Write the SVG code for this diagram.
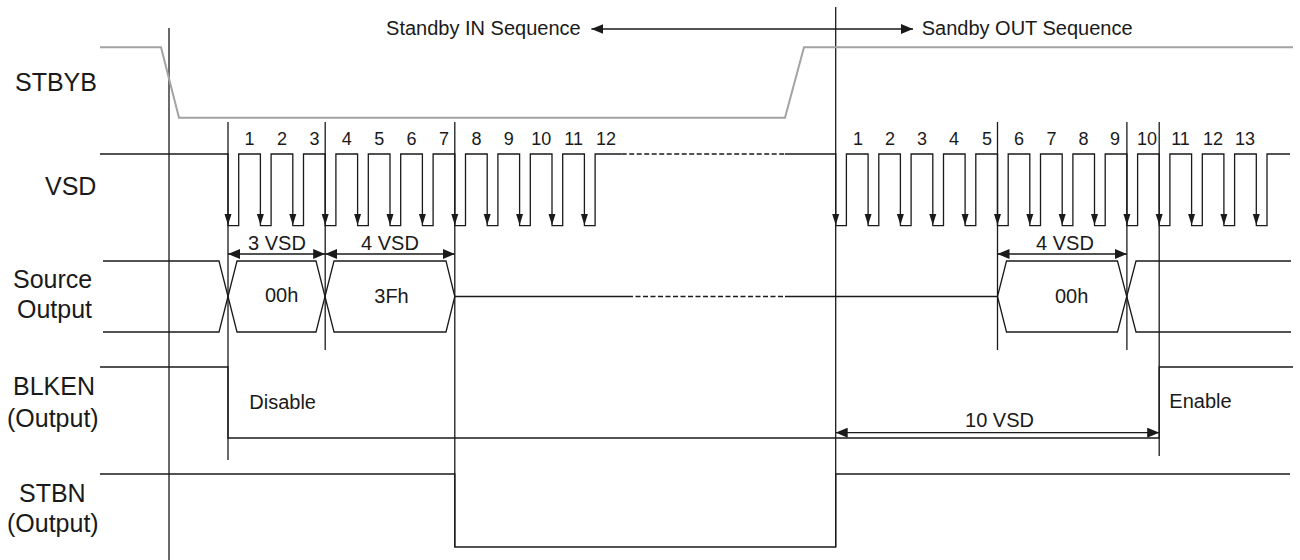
<svg xmlns="http://www.w3.org/2000/svg" xmlns:xlink="http://www.w3.org/1999/xlink" width="1300" height="560" viewBox="0 0 1300 560">
<style>
.ln{fill:none;stroke:#1a1a1a;stroke-width:1.3}
.dash{fill:none;stroke:#1a1a1a;stroke-width:1.3;stroke-dasharray:5,2.5}
.gr{fill:none;stroke:#a3a3a3;stroke-width:2}
text{font-family:"Liberation Sans",Arial,sans-serif;fill:#1a1a1a}
.lbl{font-size:25px}
.num{font-size:18px;text-anchor:middle}
.t20{font-size:20px}
.mid{text-anchor:middle}
.dim{fill:none;stroke:#1a1a1a;stroke-width:1.3;marker-start:url(#ah);marker-end:url(#ah)}
</style>
<defs>
<marker id="ah" viewBox="0 0 12 10" refX="12" refY="5" markerWidth="12" markerHeight="10" markerUnits="userSpaceOnUse" orient="auto-start-reverse"><path d="M0,0 L12,5 L0,10 Z" fill="#1a1a1a"/></marker>
<path id="va" d="M-3.5,-11 L3.5,-11 L0,0 Z" fill="#1a1a1a"/>
</defs>
<rect width="1300" height="560" fill="#ffffff"/>

<g id="labels">
<text class="lbl" x="15" y="91">STBYB</text>
<text class="lbl" x="45" y="195">VSD</text>
<text class="lbl" x="13" y="288">Source</text>
<text class="lbl" x="17" y="318">Output</text>
<text class="lbl" x="13" y="395">BLKEN</text>
<text class="lbl" x="7" y="427">(Output)</text>
<text class="lbl" x="19" y="502">STBN</text>
<text class="lbl" x="7" y="532">(Output)</text>
</g>

<g id="guides">
<path class="ln" d="M169,28 V560"/>
<path class="ln" d="M228,122 V460"/>
<path class="ln" d="M325.2,122 V350"/>
<path class="ln" d="M454.8,122 V547"/>
<path class="ln" d="M835.7,7 V547"/>
<path class="ln" d="M997.5,122 V350"/>
<path class="ln" d="M1126.9,122 V350"/>
<path class="ln" d="M1159.2,122 V456"/>
</g>

<g id="stbyb">
<path class="gr" d="M100,47.3 H161 L179,117.7 H785 L804,47.3 H1293"/>
</g>

<g id="vsd">
<path class="ln" d="M100,154 H228 V225.7 H238.7 V154 H260.4 V225.7 H271.1 V154 H292.8 V225.7 H303.5 V154 H325.2 V225.7 H335.9 V154 H357.6 V225.7 H368.3 V154 H390 V225.7 H400.7 V154 H422.4 V225.7 H433.1 V154 H454.8 V225.7 H465.5 V154 H487.2 V225.7 H497.9 V154 H519.6 V225.7 H530.3 V154 H552 V225.7 H562.7 V154 H584.4 V225.7 H595.1 V154 H621.7"/>
<path class="dash" d="M621.7,154 H785"/>
<path class="ln" d="M785,154 H835.7 V225.7 H846.4 V154 H868.1 V225.7 H878.8 V154 H900.4 V225.7 H911.1 V154 H932.8 V225.7 H943.5 V154 H965.1 V225.7 H975.8 V154 H997.5 V225.7 H1008.2 V154 H1029.8 V225.7 H1040.5 V154 H1062.2 V225.7 H1072.9 V154 H1094.5 V225.7 H1105.2 V154 H1126.9 V225.7 H1137.6 V154 H1159.2 V225.7 H1169.9 V154 H1191.6 V225.7 H1202.3 V154 H1223.9 V225.7 H1234.6 V154 H1256.3 V225.7 H1267 V154 H1290"/>
<use xlink:href="#va" x="228" y="225"/>
<use xlink:href="#va" x="260.4" y="225"/>
<use xlink:href="#va" x="292.8" y="225"/>
<use xlink:href="#va" x="325.2" y="225"/>
<use xlink:href="#va" x="357.6" y="225"/>
<use xlink:href="#va" x="390" y="225"/>
<use xlink:href="#va" x="422.4" y="225"/>
<use xlink:href="#va" x="454.8" y="225"/>
<use xlink:href="#va" x="487.2" y="225"/>
<use xlink:href="#va" x="519.6" y="225"/>
<use xlink:href="#va" x="552" y="225"/>
<use xlink:href="#va" x="584.4" y="225"/>
<use xlink:href="#va" x="835.7" y="225"/>
<use xlink:href="#va" x="868.1" y="225"/>
<use xlink:href="#va" x="900.4" y="225"/>
<use xlink:href="#va" x="932.8" y="225"/>
<use xlink:href="#va" x="965.1" y="225"/>
<use xlink:href="#va" x="997.5" y="225"/>
<use xlink:href="#va" x="1029.8" y="225"/>
<use xlink:href="#va" x="1062.2" y="225"/>
<use xlink:href="#va" x="1094.5" y="225"/>
<use xlink:href="#va" x="1126.9" y="225"/>
<use xlink:href="#va" x="1159.2" y="225"/>
<use xlink:href="#va" x="1191.6" y="225"/>
<use xlink:href="#va" x="1223.9" y="225"/>
<use xlink:href="#va" x="1256.3" y="225"/>
<text class="num" x="249.6" y="145">1</text>
<text class="num" x="282" y="145">2</text>
<text class="num" x="314.4" y="145">3</text>
<text class="num" x="346.8" y="145">4</text>
<text class="num" x="379.2" y="145">5</text>
<text class="num" x="411.6" y="145">6</text>
<text class="num" x="444" y="145">7</text>
<text class="num" x="476.4" y="145">8</text>
<text class="num" x="508.8" y="145">9</text>
<text class="num" x="541.2" y="145">10</text>
<text class="num" x="573.6" y="145">11</text>
<text class="num" x="606" y="145">12</text>
<text class="num" x="858" y="145">1</text>
<text class="num" x="890" y="145">2</text>
<text class="num" x="922" y="145">3</text>
<text class="num" x="954" y="145">4</text>
<text class="num" x="987" y="145">5</text>
<text class="num" x="1019" y="145">6</text>
<text class="num" x="1051.5" y="145">7</text>
<text class="num" x="1083.5" y="145">8</text>
<text class="num" x="1115" y="145">9</text>
<text class="num" x="1147" y="145">10</text>
<text class="num" x="1180.5" y="145">11</text>
<text class="num" x="1213" y="145">12</text>
<text class="num" x="1245" y="145">13</text>
</g>

<g id="source-output">
<path class="ln" d="M103,261 H219 L237,332 H316 L334,261 H446 L454.8,296.5"/>
<path class="ln" d="M103,332 H219 L237,261 H316 L334,332 H446 L454.8,296.5"/>
<path class="ln" d="M454.8,296.5 H628"/>
<path class="dash" d="M628,296.5 H785"/>
<path class="ln" d="M785,296.5 H997.5 L1006.5,261 H1117.5 L1136,332 H1291"/>
<path class="ln" d="M997.5,296.5 L1006.5,332 H1117.5 L1136,261 H1291"/>
<text class="t20 mid" x="281.7" y="302">00h</text>
<text class="t20 mid" x="391.5" y="303">3Fh</text>
<text class="t20 mid" x="1071.7" y="303">00h</text>
</g>

<g id="blken">
<path class="ln" d="M100,367 H228 V438 H1159.2 V367 H1293"/>
<text class="t20" x="249.3" y="409.3">Disable</text>
<text class="t20" x="1169.3" y="408.3">Enable</text>
</g>

<g id="stbn">
<path class="ln" d="M100,474 H454.8 V547 H835.7 V474 H1290"/>
</g>

<g id="connectors">
<path class="dim" d="M591.4,29 H913"/>
<path class="dim" d="M228,254 H325.2"/>
<path class="dim" d="M325.2,254 H454.8"/>
<path class="dim" d="M997.5,254 H1126.9"/>
<path class="dim" d="M835.7,432.7 H1159.2"/>
<text class="t20" x="580.7" y="35" text-anchor="end">Standby IN Sequence</text>
<text class="t20" x="921.7" y="35">Sandby OUT Sequence</text>
<text class="t20 mid" x="277" y="250">3 VSD</text>
<text class="t20 mid" x="390" y="250">4 VSD</text>
<text class="t20 mid" x="1065" y="250">4 VSD</text>
<text class="t20 mid" x="999.5" y="427">10 VSD</text>
</g>
</svg>
